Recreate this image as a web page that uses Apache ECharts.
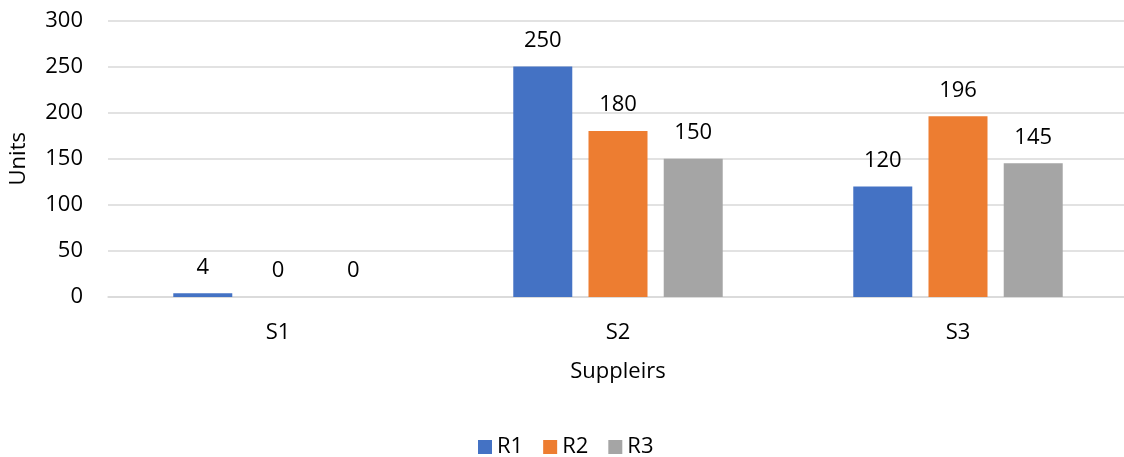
<!DOCTYPE html>
<html>
<head>
<meta charset="utf-8">
<script src="https://cdn.jsdelivr.net/npm/echarts@6/dist/echarts.min.js"></script>
<style>
  html, body { margin: 0; padding: 0; background: #fff; overflow: hidden; }
  /* plot area runs slightly past the right edge of the window */
  #chart { width: 1128px; height: 457px; }
</style>
</head>
<body>
<div id="chart"></div>
<script>
// Units delivered per supplier, split by region
const suppliers = ['S1', 'S2', 'S3'];
const seriesNames = ['R1', 'R2', 'R3'];
const r1 = [4, 250, 120];
const r2 = [0, 180, 196];
const r3 = [0, 150, 145];
const colors = ['#4472C4', '#ED7D31', '#A5A5A5'];

const FONT = 'Open Sans';
const TEXT = '#000000';
const SIZE = 22;

const values = [r1, r2, r3];

const chart = echarts.init(document.getElementById('chart'), null, { renderer: 'canvas' });

chart.setOption({
  animation: false,
  textStyle: { fontFamily: FONT },
  grid: { left: 108, top: 20.5, right: 0, bottom: 160, containLabel: false },
  legend: {
    data: seriesNames,
    top: 431,
    left: 473,
    icon: 'rect',
    itemWidth: 14,
    itemHeight: 14,
    itemGap: 20,
    textStyle: { fontFamily: FONT, fontSize: SIZE, color: TEXT }
  },
  xAxis: {
    type: 'category',
    data: suppliers,
    name: 'Suppleirs',
    nameLocation: 'middle',
    nameGap: 64,
    nameTextStyle: { fontFamily: FONT, fontSize: SIZE, color: TEXT },
    axisLine: { lineStyle: { color: '#D9D9D9', width: 1.5 } },
    axisTick: { show: false },
    axisLabel: { fontFamily: FONT, fontSize: SIZE, color: TEXT, margin: 25 }
  },
  yAxis: {
    type: 'value',
    min: 0,
    max: 300,
    interval: 50,
    name: 'Units',
    nameLocation: 'middle',
    nameGap: 78,
    nameRotate: 90,
    nameTextStyle: { fontFamily: FONT, fontSize: SIZE, color: TEXT },
    axisLine: { show: false },
    axisTick: { show: false },
    axisLabel: { fontFamily: FONT, fontSize: SIZE, color: TEXT, margin: 25 },
    splitLine: { lineStyle: { color: '#D9D9D9', width: 1.5 } }
  },
  series: seriesNames.map((name, i) => ({
    name: name,
    type: 'bar',
    data: values[i],
    barWidth: 59,
    barGap: '27.5%',
    itemStyle: { color: colors[i] },
    label: {
      show: true,
      position: 'top',
      distance: 15,
      fontFamily: FONT,
      fontSize: SIZE,
      color: TEXT
    }
  }))
});
</script>
</body>
</html>
